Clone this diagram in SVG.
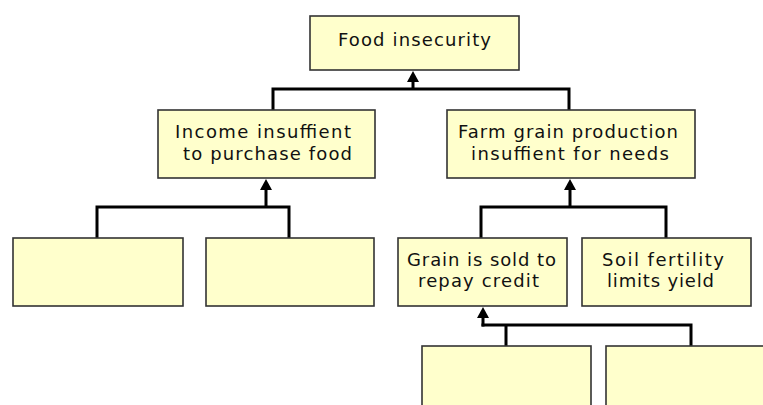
<svg xmlns="http://www.w3.org/2000/svg" width="763" height="405" viewBox="0 0 763 405">
  <defs>
    <style>
      .box { fill: #FFFFCC; stroke: #333333; stroke-width: 1.6; }
      .lbl { font-family: "DejaVu Sans", "Liberation Sans", sans-serif; font-size: 18px; fill: #111111; }
      .wire { fill: none; stroke: #000000; stroke-width: 3; stroke-linejoin: miter; stroke-linecap: butt; }
      .head { fill: #000000; }
    </style>
  </defs>

  <rect width="763" height="405" fill="#FFFFFF"/>

  <!-- connectors: elbow joins from children to parent, with arrowheads at the parent -->
  <g id="connectors">
    <!-- level 1 -> root -->
    <path class="wire" d="M273,110 V89 H569 V110"/>
    <path class="wire" d="M413,89 V78"/>
    <polygon class="head" points="413,71 419,82 407,82"/>
    <!-- income branch -->
    <path class="wire" d="M97,238 V207 H289 V238"/>
    <path class="wire" d="M266,207 V186"/>
    <polygon class="head" points="266,179 272,190 260,190"/>
    <!-- production branch -->
    <path class="wire" d="M481,238 V207 H666 V238"/>
    <path class="wire" d="M570,207 V186"/>
    <polygon class="head" points="570,179 576,190 564,190"/>
    <!-- credit branch -->
    <path class="wire" d="M481.5,325 H691 V346 M506,325 V346"/>
    <path class="wire" d="M483,326.5 V314"/>
    <polygon class="head" points="483,307 489,318 477,318"/>
  </g>

  <g id="food-insecurity">
    <rect class="box" x="310" y="16" width="209" height="54"/>
    <text class="lbl" x="338" y="46" textLength="153" lengthAdjust="spacing">Food insecurity</text>
  </g>

  <g id="income">
    <rect class="box" x="158" y="110" width="217" height="68"/>
    <text class="lbl" x="175" y="138" textLength="176" lengthAdjust="spacing">Income insuffient</text>
    <text class="lbl" x="183" y="160" textLength="169" lengthAdjust="spacing">to purchase food</text>
  </g>

  <g id="production">
    <rect class="box" x="447" y="110" width="248" height="68"/>
    <text class="lbl" x="458" y="138" textLength="220" lengthAdjust="spacing">Farm grain production</text>
    <text class="lbl" x="471" y="160" textLength="198" lengthAdjust="spacing">insuffient for needs</text>
  </g>

  <g id="empty-1">
    <rect class="box" x="13" y="238" width="170" height="68"/>
  </g>

  <g id="empty-2">
    <rect class="box" x="206" y="238" width="168" height="68"/>
  </g>

  <g id="grain-sold">
    <rect class="box" x="398" y="238" width="169" height="68"/>
    <text class="lbl" x="407" y="266" textLength="149" lengthAdjust="spacing">Grain is sold to</text>
    <text class="lbl" x="418" y="287" textLength="121" lengthAdjust="spacing">repay credit</text>
  </g>

  <g id="soil-fertility">
    <rect class="box" x="582" y="238" width="169" height="68"/>
    <text class="lbl" x="602" y="266" textLength="122" lengthAdjust="spacing">Soil fertility</text>
    <text class="lbl" x="607" y="287" textLength="107" lengthAdjust="spacing">limits yield</text>
  </g>

  <g id="empty-3">
    <rect class="box" x="422" y="346" width="169" height="80"/>
  </g>

  <g id="empty-4">
    <rect class="box" x="606" y="346" width="180" height="80"/>
  </g>
</svg>
